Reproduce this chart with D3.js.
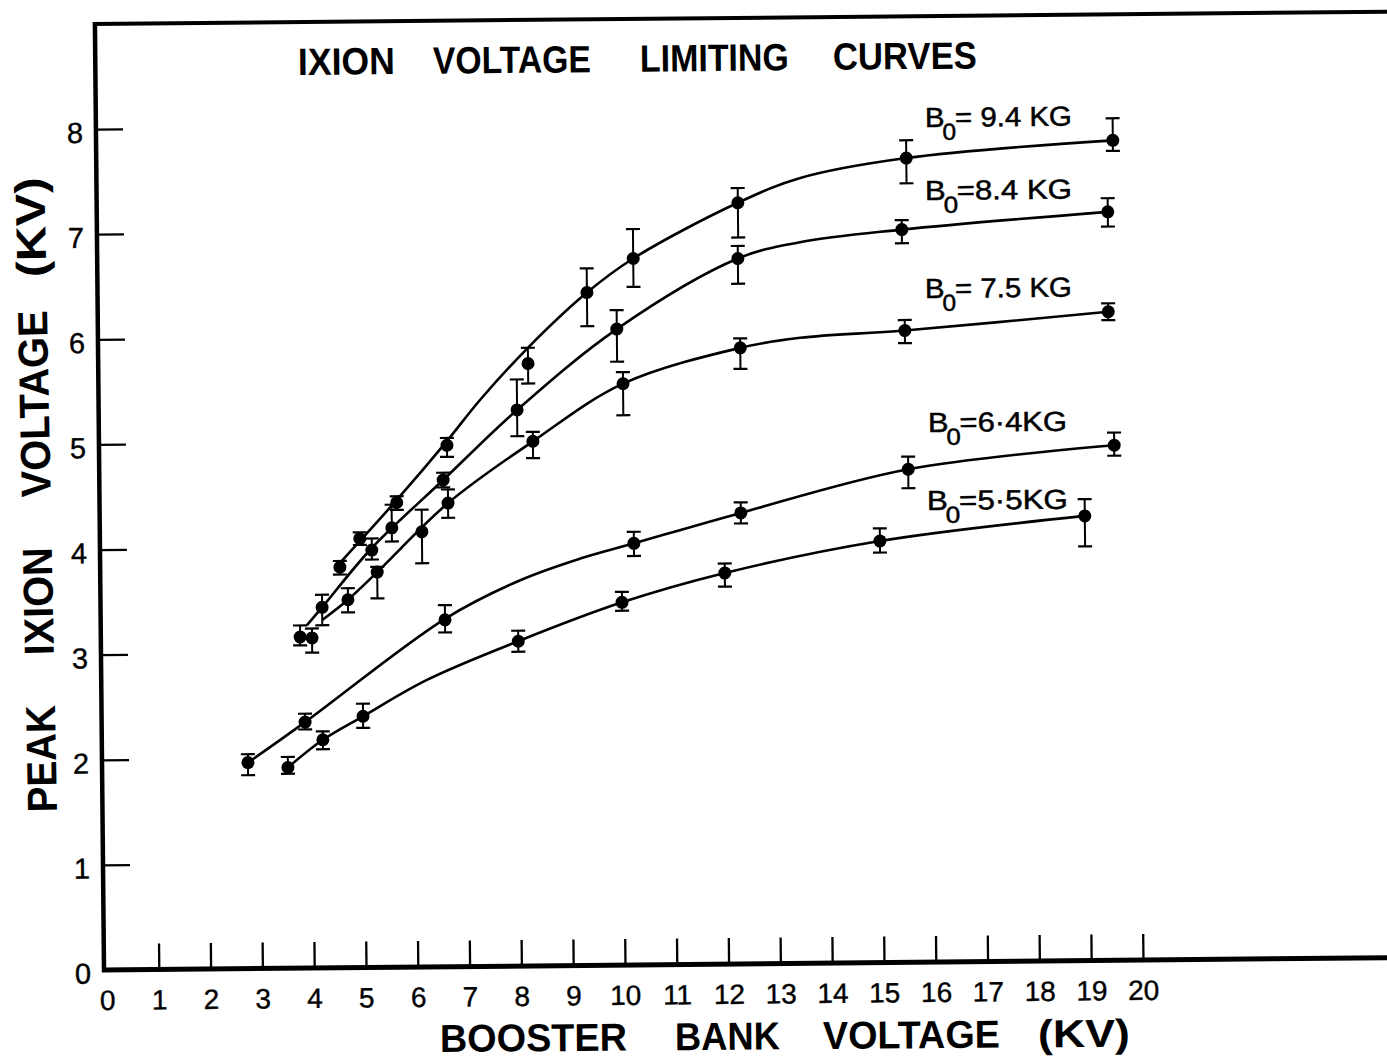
<!DOCTYPE html>
<html><head><meta charset="utf-8">
<script src="https://cdn.jsdelivr.net/npm/d3@7"></script>
<style>html,body{margin:0;padding:0;background:#fff;} svg{display:block;}</style>
</head><body>
<script>
// ---------------- data ----------------
const xTickValues = [0,1,2,3,4,5,6,7,8,9,10,11,12,13,14,15,16,17,18,19,20];
const xTickLabels = ["0","1","2","3","4","5","6","7","8","9","10","11","12","13","14","15","16","17","18","19","20"];
const yTickValues = [0,1,2,3,4,5,6,7,8];
const yTickLabels = ["0","1","2","3","4","5","6","7","8"];

const titleWords = ["IXION","VOLTAGE","LIMITING","CURVES"];
const xLabelWords = ["BOOSTER","BANK","VOLTAGE","(KV)"];
const yLabelWords = ["PEAK","IXION","VOLTAGE","(KV)"];
const seriesLabels = ["= 9.4 KG","=8.4 KG","= 7.5 KG","=6·4KG","=5·5KG"];

// B0 = 9.4 KG
const b94X  = [4.57, 4.96, 5.68, 6.66, 8.24, 9.39, 10.29, 12.32, 15.58, 19.57];
const b94Y  = [3.81, 4.08, 4.42, 4.96, 5.73, 6.40, 6.72, 7.24, 7.65, 7.80];
const b94Hi = [3.87, 4.14, 4.48, 5.03, 5.88, 6.63, 7.00, 7.38, 7.82, 8.01];
const b94Lo = [3.74, 4.02, 4.35, 4.85, 5.54, 6.08, 6.45, 6.91, 7.41, 7.70];
const b94FitX = [4.57, 5.69, 6.66, 7.31, 8.24, 9.39, 10.29, 12.32, 13.53, 15.58, 19.57];
const b94FitY = [3.85, 4.45, 5.00, 5.39, 5.88, 6.40, 6.72, 7.24, 7.47, 7.65, 7.80];

// B0 = 8.4 KG
const b84X  = [3.79, 4.22, 5.19, 5.58, 6.58, 8.02, 9.96, 12.31, 15.48, 19.46];
const b84Y  = [3.15, 3.43, 3.97, 4.18, 4.63, 5.29, 6.05, 6.71, 6.97, 7.12];
const b84Hi = [3.26, 3.55, 4.08, 4.40, 4.70, 5.58, 6.23, 6.83, 7.06, 7.25];
const b84Lo = [3.07, 3.26, 3.88, 4.05, 4.56, 5.04, 5.74, 6.47, 6.84, 6.98];
const b84FitX = [3.92, 4.22, 5.19, 6.58, 8.02, 9.96, 12.31, 13.51, 15.48, 19.46];
const b84FitY = [3.26, 3.43, 3.99, 4.63, 5.29, 6.05, 6.71, 6.86, 6.97, 7.12];

// B0 = 7.5 KG
const b75X  = [4.02, 4.72, 5.29, 6.16, 6.67, 8.32, 10.07, 12.34, 15.52, 19.45];
const b75Y  = [3.14, 3.50, 3.76, 4.14, 4.41, 4.99, 5.53, 5.86, 6.01, 6.17];
const b75Hi = [3.23, 3.61, 3.81, 4.35, 4.54, 5.08, 5.64, 5.95, 6.11, 6.25];
const b75Lo = [3.00, 3.38, 3.51, 3.84, 4.27, 4.83, 5.23, 5.66, 5.89, 6.09];
const b75FitX = [4.22, 4.72, 5.29, 6.67, 8.32, 10.07, 12.34, 13.50, 15.52, 19.45];
const b75FitY = [3.31, 3.50, 3.76, 4.41, 4.99, 5.53, 5.86, 5.95, 6.01, 6.17];

// B0 = 6.4 KG
const b64X  = [2.76, 3.87, 6.59, 10.25, 12.32, 15.56, 19.54];
const b64Y  = [1.96, 2.34, 3.30, 4.01, 4.29, 4.69, 4.90];
const b64Hi = [2.04, 2.42, 3.44, 4.12, 4.39, 4.81, 5.02];
const b64Lo = [1.84, 2.27, 3.18, 3.89, 4.19, 4.51, 4.80];
const b64FitX = [2.76, 3.87, 6.59, 8.05, 9.21, 10.25, 12.32, 15.56, 19.54];
const b64FitY = [1.96, 2.34, 3.31, 3.67, 3.87, 4.01, 4.29, 4.69, 4.90];

// B0 = 5.5 KG
const b55X  = [3.53, 4.21, 4.99, 8.00, 10.01, 12.00, 15.00, 18.96];
const b55Y  = [1.91, 2.17, 2.39, 3.09, 3.45, 3.72, 4.01, 4.23];
const b55Hi = [2.01, 2.25, 2.51, 3.19, 3.55, 3.81, 4.13, 4.39];
const b55Lo = [1.85, 2.08, 2.28, 2.99, 3.37, 3.59, 3.90, 3.94];
const b55FitX = [3.53, 4.21, 4.99, 6.23, 8.00, 10.01, 12.00, 15.00, 18.96];
const b55FitY = [1.91, 2.17, 2.39, 2.73, 3.09, 3.45, 3.72, 4.01, 4.23];

// ---------------- layout ----------------
const W = 1387, H = 1061;
const X0 = 107, Y0 = 970;
const ANG = -0.55;          // slight scan rotation of the plot frame
const FONT = "'Liberation Sans', Arial, sans-serif";

const svg = d3.select("body").append("svg").attr("width", W).attr("height", H);
svg.append("rect").attr("width", W).attr("height", H).attr("fill", "#fff");

const g = svg.append("g").attr("transform", `rotate(${ANG},${X0},${Y0})`);

function unrot(px, py) {
  const b = -ANG * Math.PI / 180;
  const dx = px - X0, dy = py - Y0;
  return [X0 + dx * Math.cos(b) - dy * Math.sin(b), Y0 + dx * Math.sin(b) + dy * Math.cos(b)];
}

const x = d3.scaleLinear().domain([0, 20]).range([X0, X0 + 1036]);
const y = d3.scaleLinear().domain([0, 8]).range([Y0, 129]);

// frame lines
g.append("line").attr("x1", X0 - 3).attr("y1", 22).attr("x2", X0 - 3).attr("y2", Y0 + 2)
  .attr("stroke", "#000").attr("stroke-width", 4.5);
g.append("line").attr("x1", X0 - 5).attr("y1", 24).attr("x2", 1450).attr("y2", 24)
  .attr("stroke", "#000").attr("stroke-width", 4);
g.append("line").attr("x1", X0 - 5).attr("y1", Y0).attr("x2", 1450).attr("y2", Y0)
  .attr("stroke", "#000").attr("stroke-width", 5);

// x axis
const xAxis = d3.axisBottom(x).tickValues(xTickValues)
  .tickFormat((d, i) => xTickLabels[i]).tickSizeInner(-26).tickSizeOuter(0).tickPadding(20);
const gx = g.append("g").attr("transform", `translate(0,${Y0})`).call(xAxis);
gx.select(".domain").remove();
gx.selectAll(".tick line").attr("stroke", "#000").attr("stroke-width", 2.3);
gx.selectAll(".tick").filter(d => d === 0).select("line").remove();
gx.selectAll(".tick text").attr("font-family", FONT).attr("font-size", 28).attr("fill", "#000")
  .attr("stroke", "#000").attr("stroke-width", 0.4);

// y axis
const yAxis = d3.axisLeft(y).tickValues(yTickValues)
  .tickFormat((d, i) => yTickLabels[i]).tickSizeInner(-27).tickSizeOuter(0).tickPadding(13);
const gy = g.append("g").attr("transform", `translate(${X0 - 3},0)`).call(yAxis);
gy.select(".domain").remove();
gy.selectAll(".tick line").attr("stroke", "#000").attr("stroke-width", 2.3);
gy.selectAll(".tick").filter(d => d === 0).select("line").remove();
gy.selectAll(".tick text").attr("font-family", FONT).attr("font-size", 29).attr("fill", "#000")
  .attr("stroke", "#000").attr("stroke-width", 0.4).attr("dy", "0.45em");

// series
const seriesList = [
  {px: b94X, py: b94Y, hi: b94Hi, lo: b94Lo, fx: b94FitX, fy: b94FitY},
  {px: b84X, py: b84Y, hi: b84Hi, lo: b84Lo, fx: b84FitX, fy: b84FitY},
  {px: b75X, py: b75Y, hi: b75Hi, lo: b75Lo, fx: b75FitX, fy: b75FitY},
  {px: b64X, py: b64Y, hi: b64Hi, lo: b64Lo, fx: b64FitX, fy: b64FitY},
  {px: b55X, py: b55Y, hi: b55Hi, lo: b55Lo, fx: b55FitX, fy: b55FitY}
];
const line = d3.line().x(d => x(d[0])).y(d => y(d[1])).curve(d3.curveCatmullRom.alpha(0.5));

seriesList.forEach(s => {
  const fit = s.fx.map((v, i) => [v, s.fy[i]]);
  g.append("path").attr("d", line(fit)).attr("fill", "none")
    .attr("stroke", "#000").attr("stroke-width", 2.6);
  const pts = s.px.map((v, i) => ({x: v, y: s.py[i], hi: s.hi[i], lo: s.lo[i]}));
  const eb = g.append("g").selectAll("g").data(pts).enter().append("g");
  eb.append("line").attr("x1", d => x(d.x)).attr("x2", d => x(d.x))
    .attr("y1", d => y(d.lo)).attr("y2", d => y(d.hi)).attr("stroke", "#000").attr("stroke-width", 2);
  eb.append("line").attr("x1", d => x(d.x) - 7).attr("x2", d => x(d.x) + 7)
    .attr("y1", d => y(d.hi)).attr("y2", d => y(d.hi)).attr("stroke", "#000").attr("stroke-width", 2.2);
  eb.append("line").attr("x1", d => x(d.x) - 7).attr("x2", d => x(d.x) + 7)
    .attr("y1", d => y(d.lo)).attr("y2", d => y(d.lo)).attr("stroke", "#000").attr("stroke-width", 2.2);
  eb.append("circle").attr("cx", d => x(d.x)).attr("cy", d => y(d.y)).attr("r", 6.5).attr("fill", "#000");
});

// series labels (page positions)
const labelStart = [[925, 127], [925, 200], [925, 298], [928, 432], [927, 510]];
const labelEnd = [1072, 1072, 1072, 1067, 1068];
seriesLabels.forEach((txt, i) => {
  const p = unrot(labelStart[i][0], labelStart[i][1]);
  const t = g.append("text").attr("x", p[0]).attr("y", p[1])
    .attr("font-family", FONT).attr("font-size", 27.5).attr("fill", "#000")
    .attr("stroke", "#000").attr("stroke-width", 0.5)
    .attr("textLength", labelEnd[i] - labelStart[i][0]).attr("lengthAdjust", "spacingAndGlyphs");
  t.append("tspan").text("B");
  t.append("tspan").attr("font-size", 23).attr("dy", 13).attr("dx", -2).text("0");
  t.append("tspan").attr("dy", -13).attr("dx", -1).text(txt);
});

// title
const titleStart = [298, 433, 640, 833];
const titleEnd = [395, 591, 789, 977];
titleWords.forEach((w, i) => {
  const p = unrot(titleStart[i], 75 + Math.tan(ANG * Math.PI / 180) * (titleStart[i] - 298));
  g.append("text").attr("x", p[0]).attr("y", p[1]).text(w)
    .attr("font-family", FONT).attr("font-weight", "bold").attr("font-size", 38).attr("fill", "#000")
    .attr("textLength", titleEnd[i] - titleStart[i]).attr("lengthAdjust", "spacingAndGlyphs");
});

// x-axis label
const xl = svg.append("g").attr("transform", "translate(440,1052) rotate(-0.45)");
const xlStart = [0, 235, 383, 598];
const xlEnd = [187, 340, 560, 690];
xLabelWords.forEach((w, i) => {
  xl.append("text").attr("x", xlStart[i]).attr("y", 0).text(w)
    .attr("font-family", FONT).attr("font-weight", "bold").attr("font-size", 39).attr("fill", "#000")
    .attr("textLength", xlEnd[i] - xlStart[i]).attr("lengthAdjust", "spacingAndGlyphs");
});

// y-axis label
const yl = svg.append("g").attr("transform", "translate(57,812) rotate(-91.15)");
const ylStart = [0, 157, 315, 535];
const ylEnd = [107, 265, 502, 635];
yLabelWords.forEach((w, i) => {
  yl.append("text").attr("x", ylStart[i]).attr("y", 0).text(w)
    .attr("font-family", FONT).attr("font-weight", "bold").attr("font-size", 42).attr("fill", "#000")
    .attr("textLength", ylEnd[i] - ylStart[i]).attr("lengthAdjust", "spacingAndGlyphs");
});
</script>
</body></html>
